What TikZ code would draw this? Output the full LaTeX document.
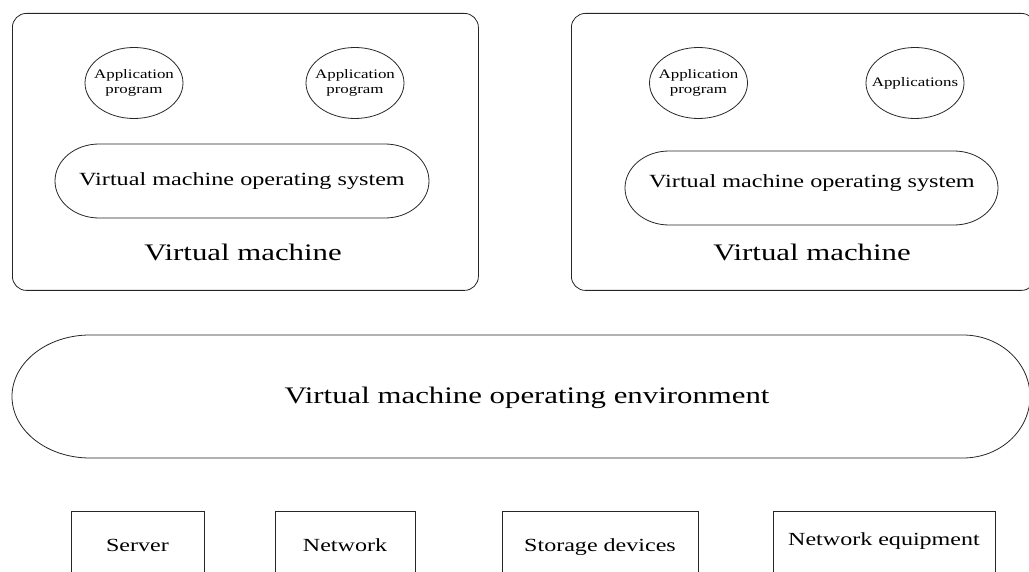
\documentclass[tikz,border=0pt]{standalone}
\usepackage{fontspec}
\setmainfont{Liberation Serif}[FakeStretch=1.3]
\usetikzlibrary{shapes.geometric}
\begin{document}
\begin{tikzpicture}[x=1pt,y=-1pt, line width=0.8pt, draw=black!85,
  vmbox/.style={draw, rounded corners=14pt},
  appshape/.style={draw, ellipse, minimum width=98pt, minimum height=71pt, inner sep=0pt},
  apptext/.style={align=center, inner sep=0pt, font=\fontsize{13}{14.5}\selectfont},
  ostext/.style={anchor=base, inner sep=0pt, font=\fontsize{18.6}{20}\selectfont},
  bigtext/.style={anchor=base, inner sep=0pt, font=\fontsize{23.7}{26}\selectfont},
  hwbox/.style={draw, anchor=north west, minimum height=90pt, inner sep=0pt},
  hwtext/.style={anchor=base, inner sep=0pt, font=\fontsize{18.5}{20}\selectfont},
]
\useasboundingbox (0,0) rectangle (1029,572);
\clip (0,0) rectangle (1029,572);

% Left virtual machine
\node[vmbox, anchor=north west, minimum width=466pt, minimum height=277pt] (vm1) at (12,13) {};
\node[appshape] (a11) at (134,83) {};
\node[apptext] (t11) at (a11) {Application\\program};
\node[appshape] (a12) at (355,83) {};
\node[apptext] (t12) at (a12) {Application\\program};
\draw (99,144) -- (385,144) arc[start angle=90, end angle=-90, x radius=44pt, y radius=37pt]
      -- (99,218) arc[start angle=270, end angle=90, x radius=44pt, y radius=37pt] -- cycle;
\node[ostext] (os1) at (242,186) {Virtual machine operating system};
\node[bigtext] (vml1) at (243,261) {Virtual machine};

% Right virtual machine
\node[vmbox, anchor=north west, minimum width=464pt, minimum height=277pt] (vm2) at (571,13) {};
\node[appshape] (a21) at (698.5,83) {};
\node[apptext] (t21) at (a21) {Application\\program};
\node[appshape] (a22) at (915,83) {};
\node[apptext] (t22) at (a22) {Applications};
\draw (669,151) -- (954,151) arc[start angle=90, end angle=-90, x radius=44pt, y radius=37pt]
      -- (669,225) arc[start angle=270, end angle=90, x radius=44pt, y radius=37pt] -- cycle;
\node[ostext] (os2) at (812,188) {Virtual machine operating system};
\node[bigtext] (vml2) at (812,261) {Virtual machine};

% Operating environment
\draw (90,335) -- (963,335) arc[start angle=90, end angle=-90, x radius=67pt, y radius=61.5pt]
      -- (90,458) arc[start angle=270, end angle=90, x radius=78pt, y radius=61.5pt] -- cycle;
\node[bigtext] (env) at (527,403) {Virtual machine operating environment};

% Hardware
\node[hwbox, minimum width=133pt] (srv) at (71,510.7) {};
\node[hwtext] (srvt) at (137.5,551) {Server};
\node[hwbox, minimum width=140pt] (net) at (275,510.7) {};
\node[hwtext] (nett) at (345,551) {Network};
\node[hwbox, minimum width=196pt] (sto) at (502,510.7) {};
\node[hwtext] (stot) at (600,551) {Storage devices};
\node[hwbox, minimum width=222pt] (neq) at (773,510.7) {};
\node[hwtext] (neqt) at (884,545) {Network equipment};
\end{tikzpicture}
\end{document}
